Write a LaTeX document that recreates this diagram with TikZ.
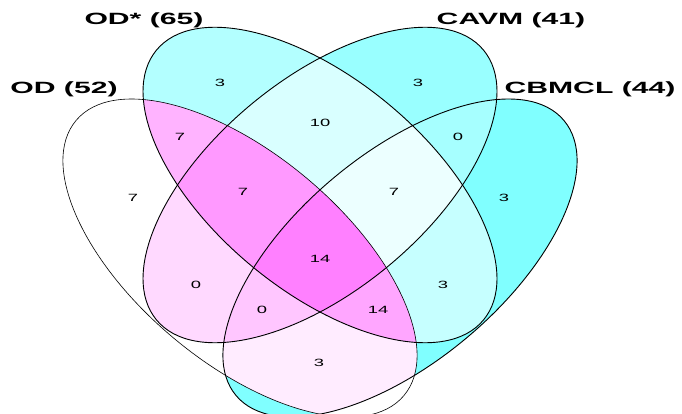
\documentclass[tikz,border=0pt]{standalone}
\usepackage{fontspec}
\setmainfont{Liberation Sans}
\usepackage{graphicx}
\definecolor{cB}{HTML}{B3FFFF}
\definecolor{cC}{HTML}{99FFFF}
\definecolor{cD}{HTML}{80FFFF}
\definecolor{cAB}{HTML}{FFB3FF}
\definecolor{cAC}{HTML}{FFD9FF}
\definecolor{cAD}{HTML}{FFECFF}
\definecolor{cBC}{HTML}{D9FFFF}
\definecolor{cBD}{HTML}{C6FFFF}
\definecolor{cCD}{HTML}{A6FFFF}
\definecolor{cABC}{HTML}{FF99FF}
\definecolor{cABD}{HTML}{FFA6FF}
\definecolor{cACD}{HTML}{FFC6FF}
\definecolor{cBCD}{HTML}{ECFFFF}
\definecolor{cABCD}{HTML}{FF80FF}
\begin{document}
\begin{tikzpicture}[x=1pt,y=-1pt,
  setlbl/.style={anchor=base, font=\fontsize{16.3}{18}\selectfont\bfseries, inner sep=0pt},
  num/.style={anchor=center, font=\fontsize{10.5}{12}\selectfont, inner sep=0pt},
  outl/.style={draw=black, line width=0.9pt},
  thinoutl/.style={draw=black, line width=0.6pt}]
\useasboundingbox (0,0) rectangle (682,414);
\fill[white] (0,0) rectangle (682,414);
\clip (0,0) rectangle (682,414);
\def\eA{(240,258) circle[x radius=214pt, y radius=104pt, rotate=-40]}
\def\eB{(320,185) circle[x radius=212pt, y radius=106pt, rotate=-39.5]}
\def\eC{(320,185) circle[x radius=212pt, y radius=106pt, rotate=39.5]}
\def\eD{(400,258) circle[x radius=214pt, y radius=104pt, rotate=40]}
% single sets
\fill[cB] \eB;
\fill[cC] \eC;
\fill[cD] \eD;
% pairs
\begin{scope}\clip \eA; \fill[cAB] \eB; \fill[cAC] \eC; \fill[cAD] \eD; \end{scope}
\begin{scope}\clip \eB; \fill[cBC] \eC; \fill[cBD] \eD; \end{scope}
\begin{scope}\clip \eC; \fill[cCD] \eD; \end{scope}
% triples
\begin{scope}\clip \eA; \clip \eB; \fill[cABC] \eC; \fill[cABD] \eD; \end{scope}
\begin{scope}\clip \eA; \clip \eC; \fill[cACD] \eD; \end{scope}
\begin{scope}\clip \eB; \clip \eC; \fill[cBCD] \eD; \end{scope}
% all four
\begin{scope}\clip \eA; \clip \eB; \clip \eC; \fill[cABCD] \eD; \end{scope}
% outlines
\draw[thinoutl] \eA;
\draw[outl] \eB;
\draw[outl] \eC;
\draw[outl] \eD;
% set labels
\node[setlbl] (lOD) at (64,94) {\scalebox{1.85}[1]{OD (52)}};
\node[setlbl] (lODs) at (144,25) {\scalebox{1.85}[1]{OD* (65)}};
\node[setlbl] (lCAVM) at (511,24.5) {\scalebox{1.85}[1]{CAVM (41)}};
\node[setlbl] (lCBMCL) at (590,94) {\scalebox{1.85}[1]{CBMCL (44)}};
% region counts
\node[num] (nA) at (133,198) {\scalebox{1.75}[1]{7}};
\node[num] (nB) at (220,83) {\scalebox{1.75}[1]{3}};
\node[num] (nC) at (418,83) {\scalebox{1.75}[1]{3}};
\node[num] (nD) at (504,198) {\scalebox{1.75}[1]{3}};
\node[num] (nAB) at (180,137) {\scalebox{1.75}[1]{7}};
\node[num] (nBC) at (320,123) {\scalebox{1.75}[1]{10}};
\node[num] (nCD) at (458,137) {\scalebox{1.75}[1]{0}};
\node[num] (nABC) at (243,192) {\scalebox{1.75}[1]{7}};
\node[num] (nBCD) at (394,192) {\scalebox{1.75}[1]{7}};
\node[num] (nABCD) at (320,259) {\scalebox{1.75}[1]{14}};
\node[num] (nAC) at (196,285) {\scalebox{1.75}[1]{0}};
\node[num] (nBD) at (443,285) {\scalebox{1.75}[1]{3}};
\node[num] (nACD) at (262,310) {\scalebox{1.75}[1]{0}};
\node[num] (nABD) at (378,310) {\scalebox{1.75}[1]{14}};
\node[num] (nAD) at (319,363) {\scalebox{1.75}[1]{3}};
\end{tikzpicture}
\end{document}
